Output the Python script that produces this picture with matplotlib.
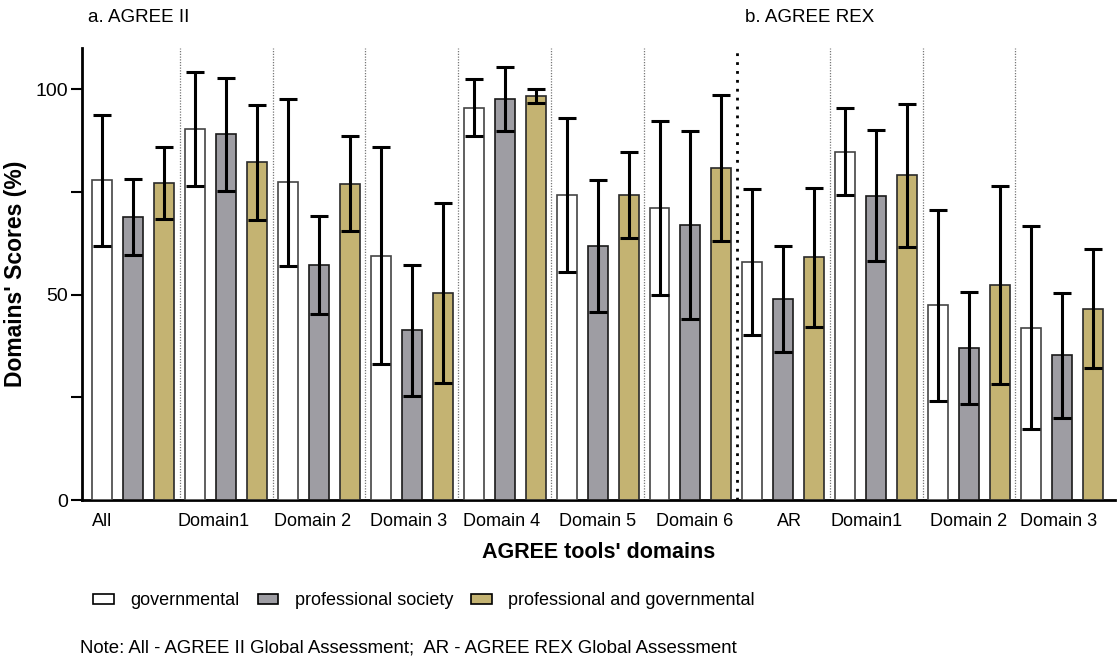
import numpy as np
import matplotlib.pyplot as plt
from matplotlib.patches import Patch

plt.rcParams['font.family'] = ['Liberation Sans', 'DejaVu Sans']

domains = ['All', 'Domain1', 'Domain 2', 'Domain 3', 'Domain 4', 'Domain 5', 'Domain 6',
           'AR', 'Domain1', 'Domain 2', 'Domain 3']
series = ['governmental', 'professional society', 'professional and governmental']

# mean score and SD per domain, one list per guideline source
gov_mean = [77.8, 90.3, 77.3, 59.5, 95.5, 74.3, 71.0, 58.0, 84.8, 47.4, 41.9]
gov_sd = [15.9, 13.8, 20.3, 26.5, 6.9, 18.7, 21.2, 17.8, 10.5, 23.2, 24.7]
prof_mean = [68.9, 89.0, 57.2, 41.3, 97.6, 61.8, 67.0, 48.9, 74.1, 37.0, 35.2]
prof_sd = [9.2, 13.8, 11.9, 16.0, 7.9, 16.0, 22.9, 12.8, 15.9, 13.7, 15.3]
both_mean = [77.2, 82.2, 77.0, 50.4, 98.4, 74.2, 80.8, 59.1, 79.0, 52.3, 46.6]
both_sd = [8.7, 14.0, 11.6, 22.0, 1.7, 10.5, 17.8, 16.9, 17.4, 24.0, 14.5]

means = [gov_mean, prof_mean, both_mean]
sds = [gov_sd, prof_sd, both_sd]
fills = ['white', '#9e9da3', '#c4b372']
edges = ['#444444', '#1a1a1a', '#2a2a2a']

fig = plt.figure(figsize=(11.17, 6.56), dpi=100)
ax = fig.add_axes([0.0734, 0.2378, 0.9246, 0.689])

n = len(domains)
width = 0.645
for s in range(3):
    x = np.arange(n) * 3 + s
    ax.bar(x, means[s], width=width, color=fills[s], edgecolor=edges[s], linewidth=1.2, zorder=3)
    ax.errorbar(x, means[s], yerr=sds[s], fmt='none', ecolor='black', elinewidth=2.2,
                capsize=6.5, capthick=2.2, zorder=4)

# group separators; the heavier one splits AGREE II from AGREE REX
for g in range(1, n):
    if g == 7:
        ax.axvline(3 * g - 0.5, color='black', linestyle=(0, (1, 2.2)), linewidth=2, zorder=1)
    else:
        ax.axvline(3 * g - 0.5, color='#777777', linestyle=(0, (1, 1.2)), linewidth=0.9, zorder=1)

ax.set_xlim(-0.66, 3 * n - 1 + 0.71)
ax.set_ylim(0, 110)
ax.set_yticks([0, 50, 100])
ax.set_yticks([25, 75], minor=True)
ax.tick_params(axis='y', which='both', direction='out', length=8, width=1.5, labelsize=14, pad=2)

label_shift = [-1.0, -0.4, -0.2, -0.1, -0.1, 0.0, 0.15, 0.2, -0.3, 0.0, -0.1]
ax.set_xticks(np.arange(n) * 3 + 1 + np.array(label_shift))
ax.set_xticklabels(domains, fontsize=13)
ax.tick_params(axis='x', length=0, pad=9)

for side in ['top', 'right']:
    ax.spines[side].set_visible(False)
ax.spines['left'].set_linewidth(2)
ax.spines['bottom'].set_linewidth(2)

ax.set_ylabel("Domains' Scores (%)", fontsize=16.5, fontweight='bold', labelpad=6)
ax.set_xlabel("AGREE tools' domains", fontsize=15.5, fontweight='bold', labelpad=9)

fig.text(0.079, 0.974, 'a. AGREE II', fontsize=13.5, va='center')
fig.text(0.667, 0.974, 'b. AGREE REX', fontsize=13.5, va='center')

handles = [Patch(facecolor=fills[i], edgecolor='black', linewidth=1.2, label=series[i]) for i in range(3)]
fig.legend(handles=handles, loc='center left', bbox_to_anchor=(0.069, 0.084), ncol=3,
           frameon=False, fontsize=13, handlelength=1.15, handleheight=0.55,
           handletextpad=0.9, columnspacing=1.0)

fig.text(0.072, 0.012, 'Note: All - AGREE II Global Assessment;  AR - AGREE REX Global Assessment',
         fontsize=13.4, va='center')

fig.savefig('out.png', dpi=100)
